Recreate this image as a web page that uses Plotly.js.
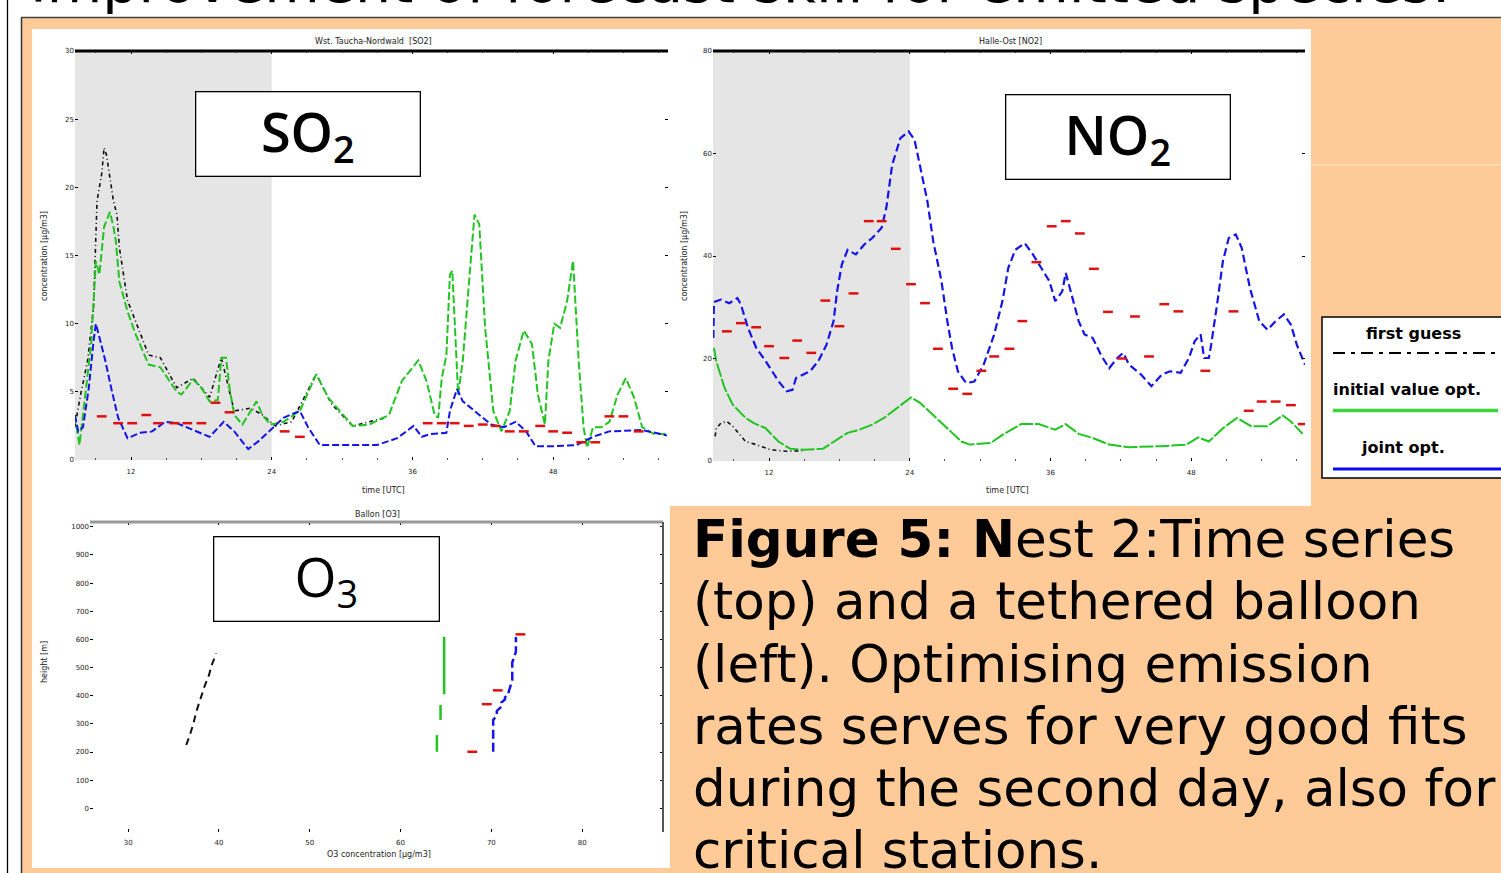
<!DOCTYPE html>
<html><head><meta charset="utf-8">
<script src="https://cdn.plot.ly/plotly-3.0.1.min.js"></script>
<style>html,body{margin:0;padding:0;background:#fff;overflow:hidden}</style>
</head><body><div id="chart" style="width:1501px;height:873px"></div>
<script>
// ---------- DATA ----------
// SO2 time series (hours since start of run, concentration)
const so2GreenTime = [7.2,7.6,8.6,9.0,9.3,9.7,10.2,10.5,10.7,11.0,11.7,12.4,13.5,14.5,15.9,16.3,17.3,18.0,18.7,19.4,19.7,20.1,20.4,20.8,21.5,22.2,22.7,23.2,23.9,25.0,26.4,27.8,28.8,30.9,32.3,34.0,35.1,36.5,37.2,37.9,38.2,38.5,38.9,39.2,39.4,39.9,40.3,41.0,41.3,41.7,42.2,42.9,43.6,44.3,44.8,45.5,46.2,46.7,47.3,47.6,48.1,48.6,49.2,49.7,50.2,50.6,50.9,51.4,52.1,52.8,53.5,54.2,54.9,55.6,56.6,57.7];
const so2Green = [3.3,1.1,8.5,14.6,13.6,17.1,18.2,17.1,16.1,13.1,10.9,9.2,7.0,6.8,5.0,4.8,5.9,5.3,4.3,4.4,7.5,7.5,5.3,3.3,2.6,3.6,4.3,3.3,2.6,2.8,3.6,6.3,4.6,2.5,2.6,3.3,5.8,7.3,5.8,3.3,3.1,6.0,7.7,13.6,13.9,4.8,7.3,14.9,18.0,17.3,9.7,3.6,2.1,3.6,7.3,9.5,8.5,4.8,2.6,7.3,10.0,9.7,11.7,14.6,7.0,2.4,0.9,2.4,2.4,2.8,4.8,6.0,4.6,2.4,1.9,1.9];
const so2BlackTime = [7.2,7.7,8.3,8.8,9.1,9.5,9.7,9.9,10.2,10.5,10.8,11.0,11.7,12.4,13.5,14.5,15.9,17.3,18.7,19.7,20.8,22.2,23.2,24.3,25.7,27.8,29.1,30.9,33.7];
const so2Black = [2.4,4.8,7.3,11.2,19.0,21.0,22.9,22.4,20.7,19.0,18.0,15.6,11.7,10.2,7.7,7.5,5.3,6.0,4.6,7.5,3.6,3.8,3.3,2.5,2.8,6.3,4.1,2.5,3.1];
const so2BlueTime = [7.2,7.5,7.9,8.4,8.8,9.0,9.3,9.8,10.3,10.9,11.7,12.8,13.8,14.9,15.9,17.3,18.7,19.9,20.8,22.0,22.9,23.9,25.0,26.4,27.1,28.1,29.8,33.0,34.7,36.1,36.8,37.5,38.9,39.2,39.8,40.3,41.3,42.7,43.8,44.8,45.7,46.5,47.9,50.0,51.4,52.8,55.6,56.6,57.7];
const so2Blue = [3.3,2.1,2.4,5.3,8.7,10.0,9.0,7.3,5.3,3.1,1.6,2.0,2.1,2.8,2.7,2.2,1.7,2.8,2.1,0.8,1.4,2.2,3.1,3.6,2.4,1.1,1.1,1.1,1.6,2.5,1.7,1.9,2.0,3.6,5.2,4.3,3.6,2.6,2.4,2.8,2.1,1.0,1.0,1.1,1.7,2.1,2.2,2.0,1.8];
const so2ObsTime = [9.5,10.9,12.1,13.3,14.3,15.7,16.8,18.0,19.2,20.4,25.1,26.4,37.3,38.5,39.6,40.8,42.0,43.1,44.3,45.5,46.9,48.0,49.2,50.4,51.6,52.8,54.0,55.3];
const so2Obs = [3.2,2.7,2.7,3.3,2.7,2.7,2.7,2.7,4.2,3.5,2.1,1.7,2.7,2.7,2.7,2.5,2.6,2.5,2.1,2.1,2.5,2.1,2.0,1.3,1.3,3.2,3.2,2.1];

// NO2 time series
const no2BlueTime = [7.25,7.3,7.9,8.6,9.3,9.6,10.2,10.9,11.7,12.8,13.5,14.0,14.3,14.9,15.5,16.2,16.9,17.5,17.8,18.2,18.7,19.4,20.1,20.8,21.6,22.0,22.5,23.2,23.9,24.4,24.9,25.5,26.0,26.7,27.2,27.6,28.1,28.8,29.5,30.3,31.2,31.9,32.4,33.0,33.8,34.5,35.2,35.9,36.4,37.0,37.3,37.8,38.4,38.9,39.6,40.3,41.0,41.7,42.2,42.7,43.7,44.6,45.5,46.2,47.1,47.8,48.3,48.8,49.1,49.5,49.7,50.2,50.7,51.2,51.8,52.3,53.0,53.8,54.5,55.2,55.9,56.5,57.0,57.7];
const no2Blue = [24.0,31.0,31.5,30.8,31.8,30.5,26.0,22.1,19.5,15.6,13.6,13.9,16.2,16.9,17.5,19.5,22.7,27.3,33.1,38.3,41.2,40.3,42.2,43.5,45.5,49.4,57.8,63.0,64.3,62.7,57.2,50.7,42.9,35.1,27.3,22.1,17.5,15.2,15.5,18.8,24.7,31.2,37.7,41.2,42.5,40.3,37.7,35.1,31.2,33.1,36.7,32.5,27.3,24.7,24.0,20.7,18.1,20.1,21.1,18.8,16.9,14.6,16.9,17.5,17.2,20.1,23.4,24.7,20.1,20.1,22.7,30.5,39.0,43.5,44.2,41.6,33.8,27.3,25.6,27.3,28.6,26.6,22.7,18.8];
const no2GreenTime = [7.3,7.5,8.2,8.9,10.0,10.7,11.7,12.8,13.8,14.9,16.6,17.6,18.7,19.7,20.8,21.8,22.9,24.1,24.9,26.0,27.0,28.4,29.1,30.9,31.9,33.5,35.0,36.4,37.3,38.4,39.6,41.0,42.7,45.5,47.6,48.6,49.5,50.7,51.9,53.1,54.5,55.8,56.5,57.5];
const no2Green = [22.1,19.5,14.3,11.0,8.4,7.4,6.4,3.8,2.4,2.2,2.4,3.8,5.5,6.1,7.1,8.4,10.3,12.4,11.3,9.0,6.8,3.8,3.2,3.5,5.1,7.2,7.2,6.1,7.2,5.3,4.5,3.2,2.7,2.9,3.2,4.6,3.8,6.4,8.4,6.8,6.8,8.9,7.7,5.3];
const no2BlackTime = [7.4,7.5,7.9,8.4,8.9,9.5,10.0,10.9,12.1,13.5,14.9];
const no2Black = [4.8,6.4,7.4,7.7,6.8,5.1,3.8,3.2,2.2,1.9,2.0];
const no2ObsTime = [8.4,9.6,10.9,12.0,13.3,14.4,15.6,16.8,18.0,19.2,20.5,21.6,22.8,24.1,25.3,26.4,27.7,28.9,30.1,31.2,32.5,33.6,34.8,36.1,37.3,38.5,39.7,40.9,42.1,43.2,44.4,45.7,46.9,49.2,51.6,52.9,54.0,55.2,56.5,57.5];
const no2Obs = [25.3,26.9,26.1,22.4,20.1,23.5,21.1,31.3,26.3,32.7,46.8,46.8,41.4,34.5,30.8,21.9,14.1,13.1,17.6,20.4,21.9,27.3,38.8,45.8,46.8,44.4,37.5,29.1,20.0,28.2,20.4,30.6,29.2,17.6,29.2,9.8,11.6,11.6,10.9,7.2];

// O3 tethered balloon profile (concentration, height)
const o3BlackConc = [36.4,36.8,37.2,37.5,38.4,38.9,39.2,39.7];
const o3BlackHeight = [225,260,303,343,432,473,509,550];
const o3GreenConc = [64.0,64.0,null,64.4,64.4,null,64.8,64.8];
const o3GreenHeight = [201,260,null,314,367,null,405,609];
const o3BlueConc = [70.2,70.2,70.6,70.6,71.1,71.1,71.5,71.5,71.9,71.9,72.3,72.3,72.7,72.7];
const o3BlueHeight = [201,314,331,346,361,376,387,394,406,413,456,518,556,609];
const o3ObsConc = [67.9,69.5,70.7,73.2];
const o3ObsHeight = [201,370,419,618];

// tick labels
const timeTickVals = [12,24,36,48];
const timeTickText = ['12','24','36','48'];
const o3ConcTicks = [30,40,50,60,70,80];
const o3HeightTicks = [0,100,200,300,400,500,600,700,800,900,1000];

const captionLines = [
  '<b>Figure 5: N</b>est 2:Time series',
  '(top) and a tethered balloon',
  '(left). Optimising emission',
  'rates serves for very good fits',
  'during the second day, also for',
  'critical stations.'
];

// ---------- STYLE / LAYOUT ----------
const W = 1501, H = 873;
const px = x => x / W;
const py = y => 1 - y / H;
const GREEN = '#22c422', BLUE = '#1414e6', RED = '#e01010';
const tickFont = {family:'DejaVu Sans', size:7, color:'#222'};
const smallFont = {family:'DejaVu Sans', size:8, color:'#222'};

function line(x, y, xa, ya, color, dash, width) {
  return {type:'scatter', mode:'lines', x:x, y:y, xaxis:xa, yaxis:ya,
    line:{color:color, dash:dash, width:width||2}, connectgaps:false, hoverinfo:'skip'};
}
function obs(x, y, xa, ya) {
  return {type:'scatter', mode:'markers', x:x, y:y, xaxis:xa, yaxis:ya,
    marker:{symbol:'line-ew', size:7, line:{width:2.5, color:RED}}, hoverinfo:'skip'};
}

const traces = [
  line(so2BlackTime, so2Black, 'x', 'y', '#111', '4px,3px,1px,3px', 1.6),
  line(so2GreenTime, so2Green, 'x', 'y', GREEN, '8px,3px', 2),
  line(so2BlueTime, so2Blue, 'x', 'y', BLUE, '7px,3px', 2),
  obs(so2ObsTime, so2Obs, 'x', 'y'),
  line(no2BlackTime, no2Black, 'x2', 'y2', '#111', '4px,3px,1px,3px', 1.6),
  line(no2GreenTime, no2Green, 'x2', 'y2', GREEN, '14px,2px', 2),
  line(no2BlueTime, no2Blue, 'x2', 'y2', BLUE, '8px,4px', 2.2),
  obs(no2ObsTime, no2Obs, 'x2', 'y2'),
  line(o3BlackConc, o3BlackHeight, 'x3', 'y3', '#111', '7px,5px', 2),
  line(o3GreenConc, o3GreenHeight, 'x3', 'y3', GREEN, 'solid', 2.5),
  line(o3BlueConc, o3BlueHeight, 'x3', 'y3', BLUE, '9px,4px', 2.5),
  obs(o3ObsConc, o3ObsHeight, 'x3', 'y3')
];

function timeAxis(domain, anchor, range) {
  return {domain:domain, anchor:anchor, range:range, tickmode:'array', tickvals:timeTickVals,
    ticktext:timeTickText, ticks:'inside', ticklen:3, tickwidth:1, tickcolor:'#000', mirror:'ticks',
    showline:false, showgrid:false, zeroline:false, tickfont:tickFont, ticklabelstandoff:6,
    minor:{tick0:0, dtick:3, ticks:'inside', ticklen:2, tickcolor:'#555'}, automargin:false, fixedrange:true};
}
function valAxis(domain, anchor, range, dtick) {
  return {domain:domain, anchor:anchor, range:range, dtick:dtick, tick0:0, ticks:'inside', ticklen:3,
    tickcolor:'#000', mirror:'ticks', showline:false, showgrid:false, zeroline:false,
    tickfont:tickFont, automargin:false, fixedrange:true};
}

const shapes = [
  // poster background
  {type:'rect', xref:'paper', yref:'paper', x0:px(22), x1:1, y0:0, y1:py(18), fillcolor:'#fecb98', line:{width:0}, layer:'below'},
  {type:'line', xref:'paper', yref:'paper', x0:px(21.5), x1:px(21.5), y0:0, y1:py(17.5), line:{color:'#333', width:1.5}, layer:'below'},
  {type:'line', xref:'paper', yref:'paper', x0:px(21), x1:1, y0:py(17.5), y1:py(17.5), line:{color:'#444', width:1.5}, layer:'below'},
  {type:'line', xref:'paper', yref:'paper', x0:px(7.5), x1:px(7.5), y0:0, y1:1, line:{color:'#000', width:1.3}, layer:'below'},
  {type:'rect', xref:'paper', yref:'paper', x0:px(32), x1:px(1311), y0:py(506), y1:py(29), fillcolor:'#fff', line:{width:0}, layer:'below'},
  {type:'rect', xref:'paper', yref:'paper', x0:px(32), x1:px(670), y0:py(868), y1:py(505), fillcolor:'#fff', line:{width:0}, layer:'below'},
  {type:'line', xref:'paper', yref:'paper', x0:px(1311), x1:1, y0:py(165), y1:py(165), line:{color:'#ffe6cc', width:1}, layer:'below'},
  // shaded first day
  {type:'rect', xref:'x', yref:'y domain', x0:7.22, x1:24, y0:0, y1:1, fillcolor:'#e5e5e5', line:{width:0}, layer:'below'},
  {type:'rect', xref:'x2', yref:'y2 domain', x0:7.22, x1:24, y0:0, y1:1, fillcolor:'#e5e5e5', line:{width:0}, layer:'below'},
  // frame lines
  {type:'line', xref:'x domain', yref:'y domain', x0:0, x1:1, y0:1, y1:1, line:{color:'#000', width:3}},
  {type:'line', xref:'x2 domain', yref:'y2 domain', x0:0, x1:1, y0:1, y1:1, line:{color:'#000', width:3}},
  {type:'line', xref:'x3 domain', yref:'y3 domain', x0:0, x1:1, y0:1, y1:1, line:{color:'#999', width:3}},
  {type:'line', xref:'x3 domain', yref:'y3 domain', x0:1, x1:1, y0:0, y1:1, line:{color:'#555', width:2}},
  // legend box
  {type:'rect', xref:'paper', yref:'paper', x0:px(1322), x1:px(1504), y0:py(478), y1:py(317), fillcolor:'#fff', line:{color:'#000', width:1.5}},
  {type:'line', xref:'paper', yref:'paper', x0:px(1333), x1:1, y0:py(353), y1:py(353), line:{color:'#000', width:2, dash:'12px,6px,4px,6px'}},
  {type:'line', xref:'paper', yref:'paper', x0:px(1333), x1:px(1498), y0:py(410.5), y1:py(410.5), line:{color:'#3bd43b', width:3.5}},
  {type:'line', xref:'paper', yref:'paper', x0:px(1333), x1:1, y0:py(469), y1:py(469), line:{color:'#0a0af0', width:3}}
];

function txt(text, x, y, font, xa, ya, extra) {
  return Object.assign({text:text, x:px(x), y:py(y), xref:'paper', yref:'paper', showarrow:false,
    xanchor:xa||'center', yanchor:ya||'middle', font:font, borderpad:0}, extra||{});
}
const capFont = {family:'DejaVu Sans', size:51.5, color:'#000'};
const legFont = {family:'DejaVu Sans', size:16, weight:700, color:'#000'};
const annotations = [
  txt('Improvement of forecast skill for emitted species:', 29, -18.3, {family:'DejaVu Sans', size:57, color:'#000'}, 'left'),
  txt('SO<sub>2</sub>', 307.5, 133.5, {family:'Open Sans', size:54, weight:600, color:'#000'}, 'center', 'middle',
      {bgcolor:'#fff', bordercolor:'#000', borderwidth:1.3, width:223, height:83}),
  txt('NO<sub>2</sub>', 1117.5, 136.5, {family:'Open Sans', size:54, weight:600, color:'#000'}, 'center', 'middle',
      {bgcolor:'#fff', bordercolor:'#000', borderwidth:1.3, width:223, height:83}),
  txt('O<sub>3</sub>', 326, 578.5, {family:'Open Sans', size:54, weight:400, color:'#000'}, 'center', 'middle',
      {bgcolor:'#fff', bordercolor:'#000', borderwidth:1.3, width:224, height:83}),
  // small plot texts
  txt('Wst. Taucha-Nordwald  [SO2]', 373, 41, smallFont),
  txt('Halle-Ost [NO2]', 1010, 41, smallFont),
  txt('Ballon [O3]', 377, 514, smallFont),
  txt('time [UTC]', 383, 490, smallFont),
  txt('time [UTC]', 1008, 490, smallFont),
  txt('O3 concentration [µg/m3]', 379, 854, smallFont),
  txt('concentration [µg/m3]', 44, 256, smallFont, 'center', 'middle', {textangle:-90}),
  txt('concentration [µg/m3]', 684, 256, smallFont, 'center', 'middle', {textangle:-90}),
  txt('height [m]', 44, 662, smallFont, 'center', 'middle', {textangle:-90}),
  // legend texts
  txt('first guess', 1413, 333, legFont),
  txt('initial value opt.', 1332, 389, legFont, 'left'),
  txt('joint opt.', 1403, 448, legFont)
];
captionLines.forEach((t, i) => {
  const baseline = 557 + i * 62.2;
  annotations.push(txt(t, 692, baseline - 17.8, capFont, 'left', 'middle'));
});

const layout = {
  width:W, height:H, margin:{l:0, r:0, t:0, b:0}, showlegend:false,
  paper_bgcolor:'#fff', plot_bgcolor:'rgba(0,0,0,0)',
  xaxis: timeAxis([px(75), px(668)], 'y', [7.22, 57.8]),
  yaxis: valAxis([py(460), py(51)], 'x', [0, 30], 5),
  xaxis2: timeAxis([px(713), px(1305)], 'y2', [7.22, 57.7]),
  yaxis2: valAxis([py(461), py(51)], 'x2', [0, 80], 20),
  xaxis3: Object.assign(valAxis([px(90), px(663)], 'y3', [25.8, 88.9], 10),
      {tickmode:'array', tickvals:o3ConcTicks, ticklabelstandoff:5, mirror:'ticks'}),
  yaxis3: Object.assign(valAxis([py(832), py(522)], 'x3', [-84, 1017], 100),
      {tickmode:'array', tickvals:o3HeightTicks}),
  shapes:shapes, annotations:annotations
};

Plotly.newPlot('chart', traces, layout, {staticPlot:true, displayModeBar:false});
</script></body></html>
